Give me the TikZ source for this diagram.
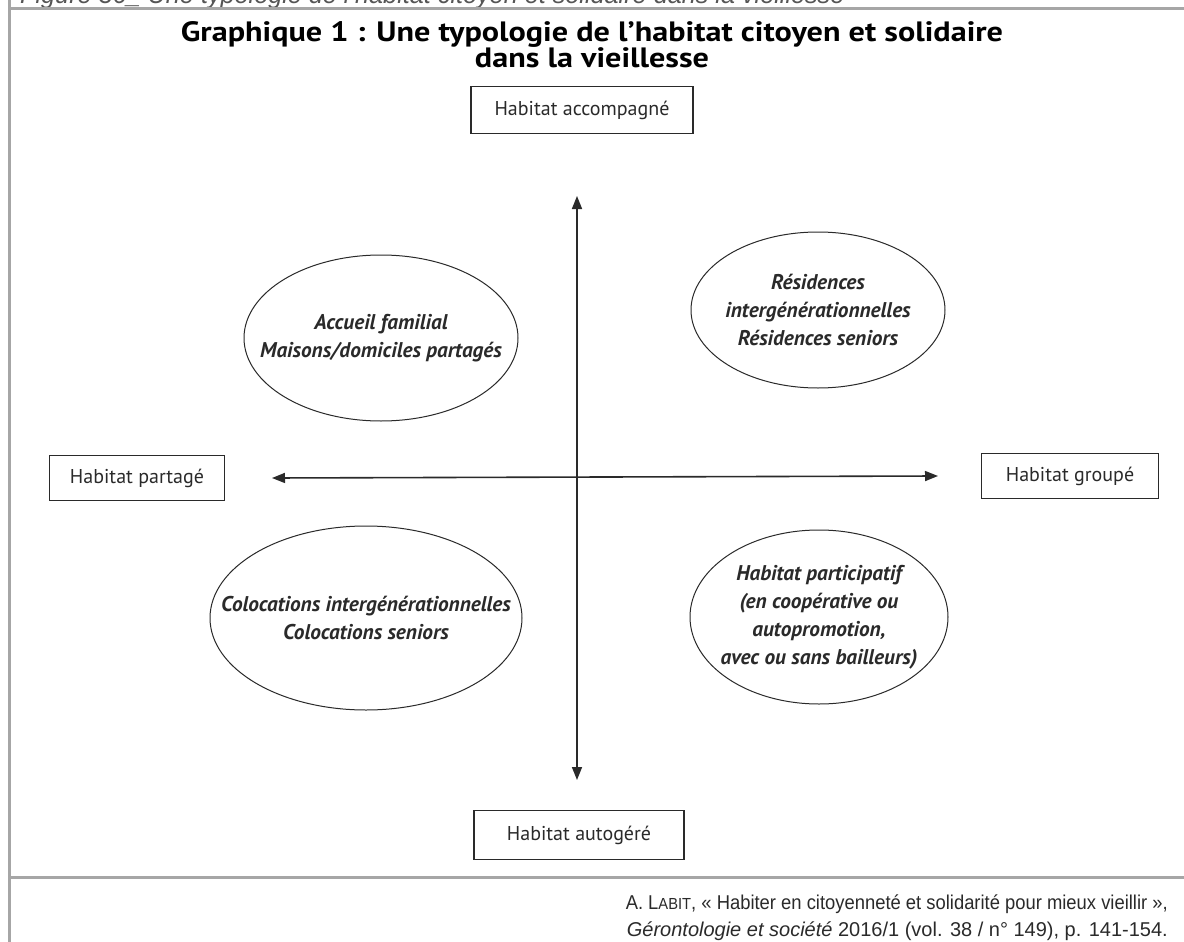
\documentclass[tikz,border=0pt]{standalone}
\usepackage{fontspec}
\setmainfont{PT Sans}
\newfontfamily\titlefont[FakeStretch=1.15]{PT Sans}
\newfontfamily\citefont[FakeStretch=0.92]{Liberation Sans}
\newfontfamily\citefontwide{Liberation Sans}
\newfontfamily\capfont[FakeStretch=0.97]{Liberation Sans}
\usetikzlibrary{arrows.meta}
\definecolor{rulegrey}{HTML}{A6A6A6}
\definecolor{ink}{HTML}{2A2A2A}
\definecolor{capgrey}{HTML}{555555}
\begin{document}
\begin{tikzpicture}[x=1pt,y=-1pt,
  axisbox/.style={draw=ink,line width=1.3pt,rectangle,inner sep=0pt,text=ink,
    font=\fontsize{20}{22}\selectfont},
  zone/.style={inner sep=0pt,align=center,text=ink,
    font=\bfseries\itshape\fontsize{21.3}{28}\selectfont},
  zoneline/.style={draw=ink,line width=1pt},
  axisline/.style={draw=ink,line width=1.6pt,
    {Triangle[length=13pt,width=10pt]}-{Triangle[length=13pt,width=10pt]}},
  frame/.style={draw=rulegrey,line width=3pt},
  titleline/.style={anchor=base,inner sep=0pt,text=black,
    font=\titlefont\bfseries\fontsize{28}{30}\selectfont},
  cite/.style={anchor=base east,inner sep=0pt,text=ink,
    font=\fontsize{20}{22}\selectfont}]
\useasboundingbox (0,0) rectangle (1184,942);
\fill[white] (0,0) rectangle (1184,942);

% caption band (mostly above the page edge)
\node[anchor=base west,inner sep=0pt,text=capgrey,
  font=\capfont\itshape\fontsize{26}{28}\selectfont] (figcap) at (20,3.5)
  {Figure 36\_ Une typologie de l’habitat citoyen et solidaire dans la vieillesse};

% frame rules
\draw[frame] (9.5,0) -- (9.5,942);
\draw[frame] (8,9) -- (1184,9);
\draw[frame] (8,877) -- (1184,877);

% title
\node[titleline] (title1) at (592,42)
  {Graphique 1 : Une typologie de l’habitat citoyen et solidaire};
\node[titleline] (title2) at (592,68) {dans la vieillesse};

% axis poles
\node[axisbox,minimum width=222pt,minimum height=47pt] (top) at (582,110) {Habitat accompagné};
\node[axisbox,minimum width=210pt,minimum height=49pt] (bottom) at (579,835) {Habitat autogéré};
\node[axisbox,minimum width=175pt,minimum height=45pt] (left) at (137,478) {Habitat partagé};
\node[axisbox,minimum width=177pt,minimum height=45pt] (right) at (1070,476) {Habitat groupé};

% axes
\coordinate (ntip) at (577,196);
\coordinate (stip) at (577,780);
\coordinate (wtip) at (272,478);
\coordinate (etip) at (938,476);
\draw[axisline] (ntip) -- (stip);
\draw[axisline] (wtip) -- (etip);

% quadrants: label nodes with their ellipses
\node[zone] (nw) at (381,338) {Accueil familial\\Maisons/domiciles partagés};
\draw[zoneline] (nw.center) ellipse [x radius=137, y radius=83];
\node[zone] (ne) at (818,310) {Résidences\\intergénérationnelles\\Résidences seniors};
\draw[zoneline] (ne.center) ellipse [x radius=127, y radius=78];
\node[zone] (sw) at (366,618) {Colocations intergénérationnelles\\Colocations seniors};
\draw[zoneline] (sw.center) ellipse [x radius=156, y radius=92];
\node[zone] (se) at (819,617) {Habitat participatif\\(en coopérative ou\\autopromotion,\\avec ou sans bailleurs)};
\draw[zoneline] (se.center) ellipse [x radius=129, y radius=87];

% source
\node[cite] (src1) at (1168,909)
  {\citefont A. L{\fontsize{16}{22}\selectfont ABIT}, « Habiter en citoyenneté et solidarité pour mieux vieillir »,};
\node[cite] (src2) at (1168,936)
  {\citefontwide\textit{Gérontologie et société} 2016/1 (vol. 38 / n° 149), p. 141-154.};
\end{tikzpicture}
\end{document}
